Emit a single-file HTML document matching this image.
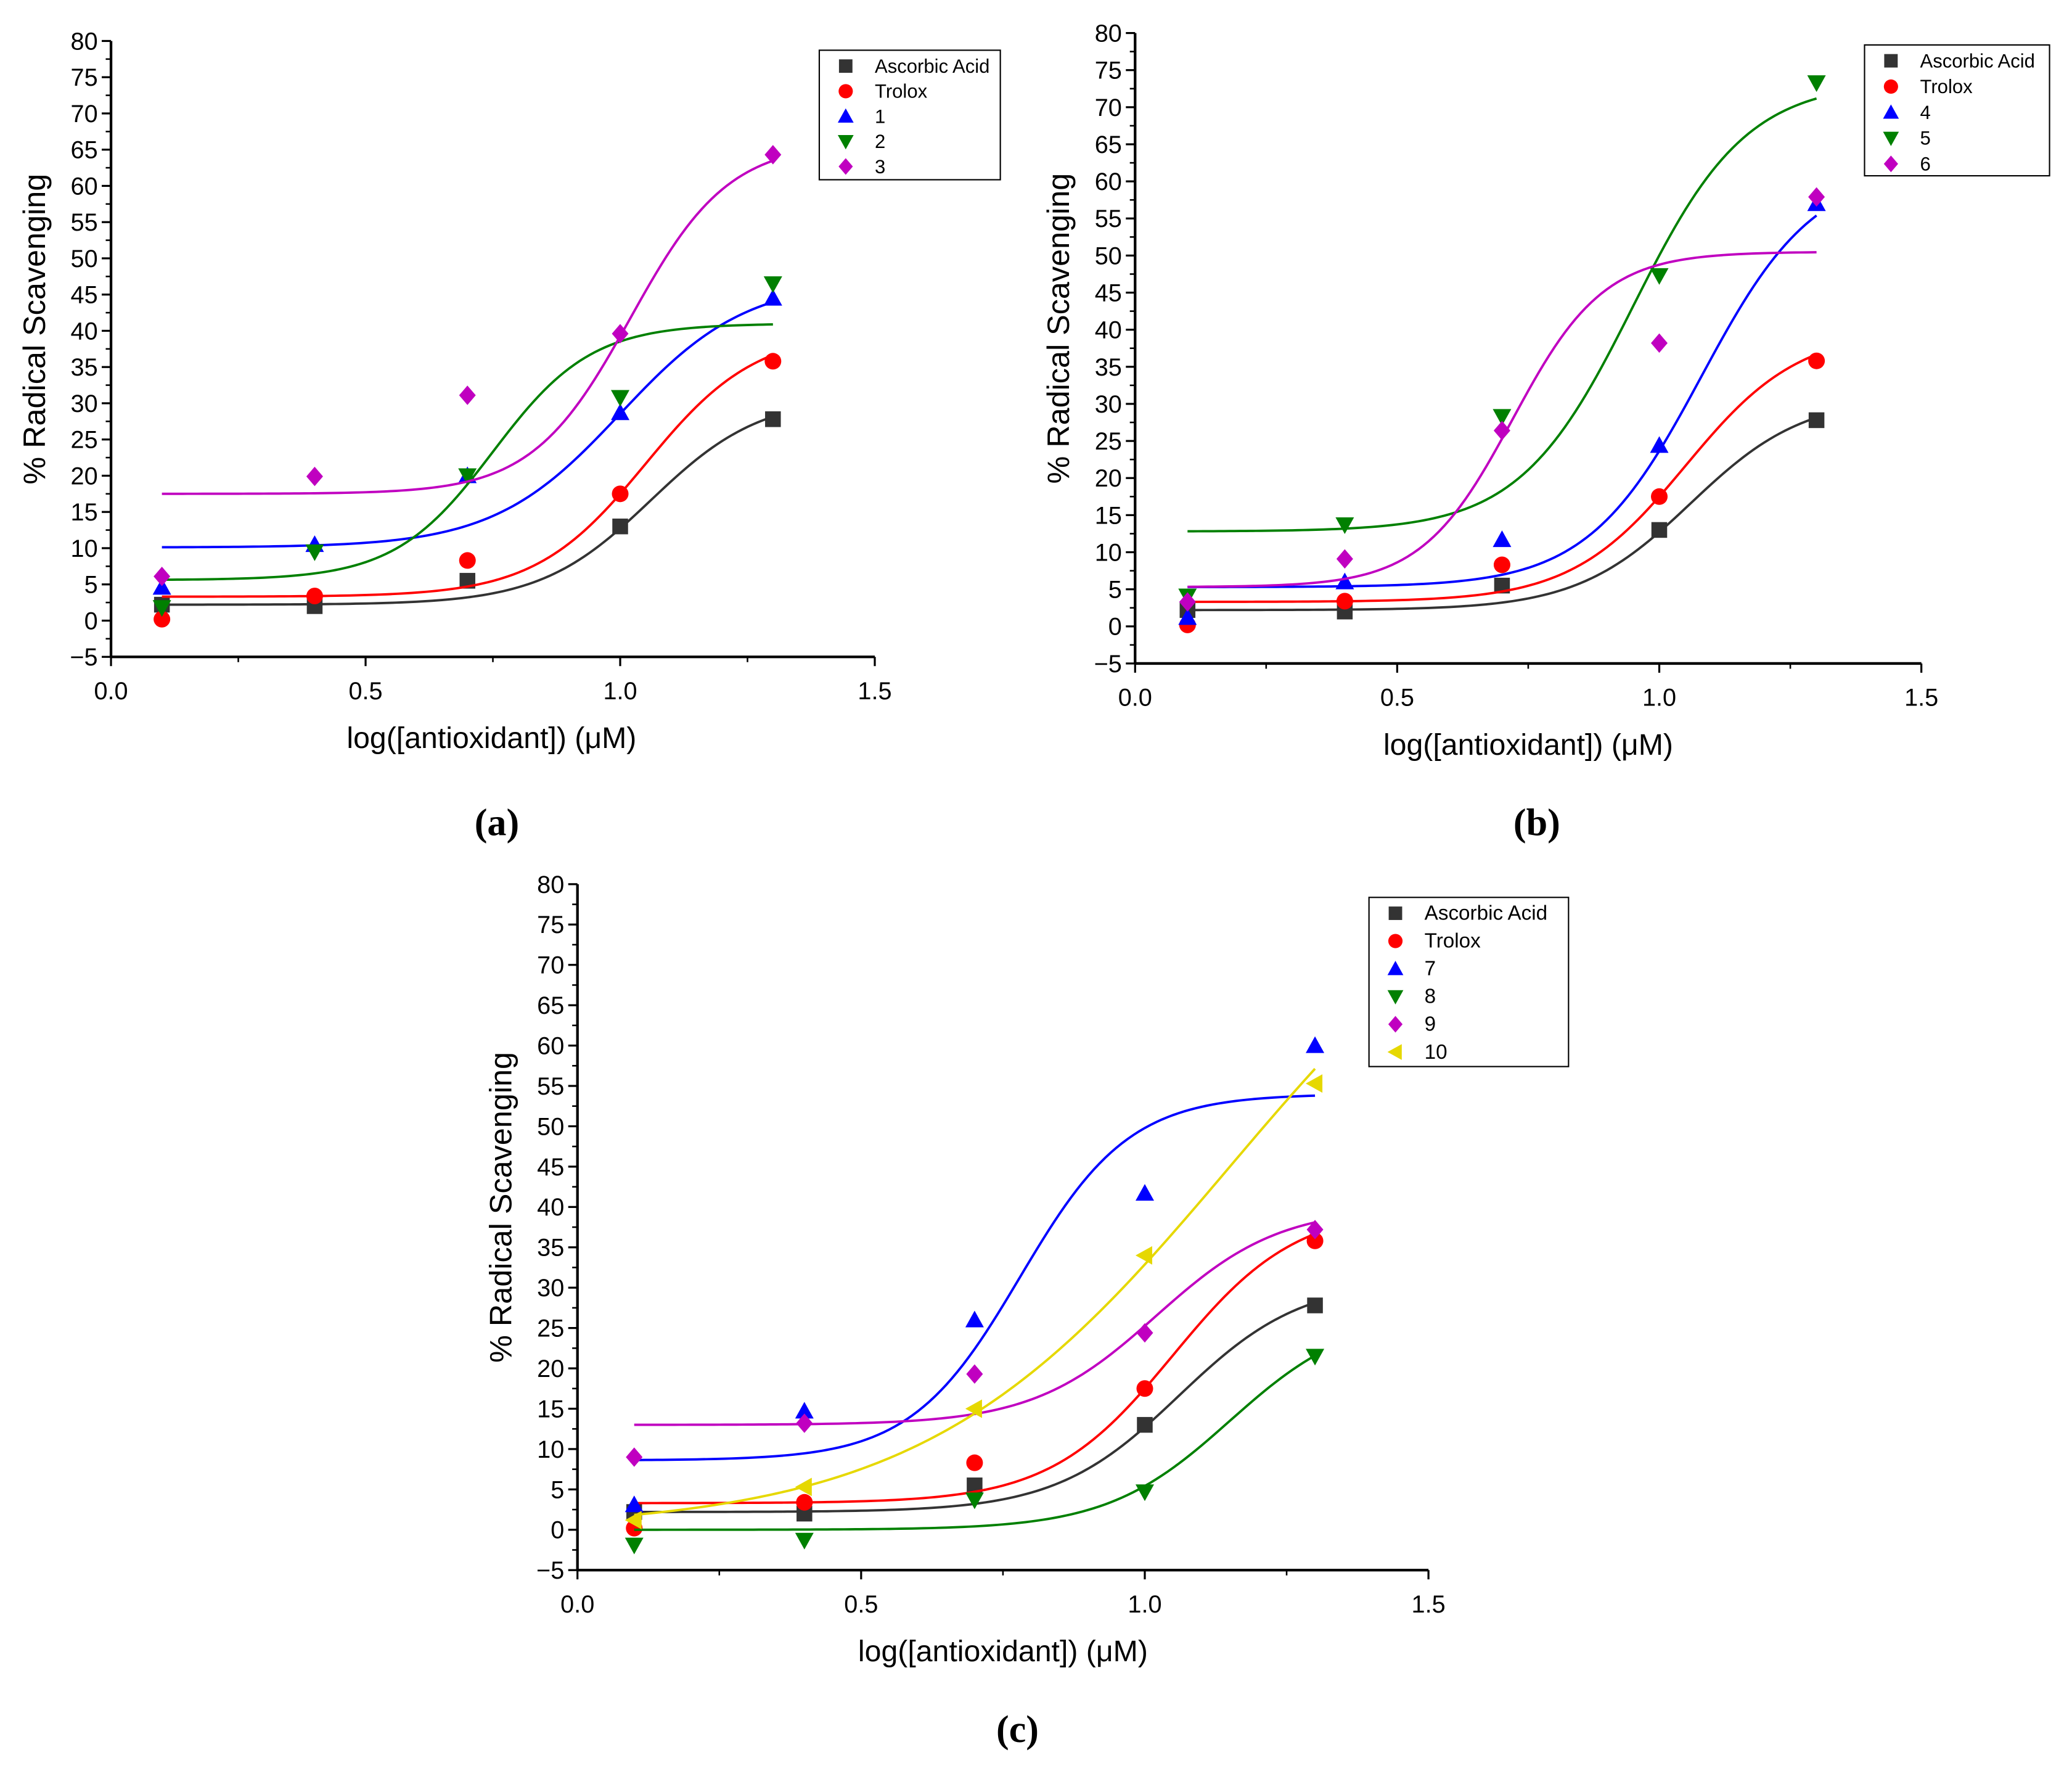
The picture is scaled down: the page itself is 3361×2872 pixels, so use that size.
<!DOCTYPE html>
<html><head><meta charset="utf-8">
<style>
html,body{margin:0;padding:0;background:#fff;}
svg{display:block;}
text{font-family:"Liberation Sans",Arial,sans-serif;}
.cap{font-family:"Liberation Serif",serif;font-weight:bold;}
</style></head>
<body>
<svg id="fig" width="3361" height="2872" viewBox="0 0 1568 1340" preserveAspectRatio="none" xmlns="http://www.w3.org/2000/svg">
<rect width="1568" height="1340" fill="#fff"/>
</svg>
<script>
// x positions (log concentration)
const logConc = [0.1, 0.4, 0.7, 1.0, 1.3];
// ---- panel a data ----
const aAscorbic = [2.2, 2.0, 5.5, 13.0, 27.8];
const aTrolox = [0.2, 3.4, 8.3, 17.5, 35.8];
const a1 = [4.6, 10.5, 20.0, 28.7, 44.5];
const a2 = [1.8, 9.5, 20.0, 30.8, 46.5];
const a3 = [6.1, 19.9, 31.1, 39.6, 64.3];
// ---- panel b data ----
const b4 = [1.2, 6.0, 11.7, 24.4, 57.0];
const b5 = [4.1, 13.7, 28.3, 47.3, 73.3];
const b6 = [3.3, 9.1, 26.4, 38.2, 57.9];
// ---- panel c data ----
const c7 = [3.1, 14.7, 26.0, 41.7, 60.0];
const c8 = [-1.9, -1.3, 3.7, 4.7, 21.5];
const c9 = [9.0, 13.2, 19.3, 24.4, 37.2];
const c10 = [1.2, 5.3, 15.0, 34.0, 55.3];
// fitted logistic params [bottom, top, x50, hill]
const fitAscorbic = [2.2, 31, 1.06, 4];
const fitTrolox = [3.3, 40, 1.05, 4];
const fit1 = [10.1, 47, 1.0, 3.5];
const fit2 = [5.6, 41, 0.75, 4.5];
const fit3 = [17.5, 66, 1.02, 4.5];
const fit4 = [5.3, 62, 1.08, 4];
const fit5 = [12.8, 73.5, 0.95, 4];
const fit6 = [5.3, 50.5, 0.72, 5];
const fit7 = [8.6, 54, 0.78, 4.5];
const fit8 = [0, 27, 1.15, 4];
const fit9 = [13, 40, 1.02, 4];
const fit10 = [0, 90, 1.15, 1.6];
// axis ticks
const yTicks = [-5,0,5,10,15,20,25,30,35,40,45,50,55,60,65,70,75,80];
const xTicks = [0.0,0.5,1.0,1.5];
const xTickLabels = ["0.0","0.5","1.0","1.5"];

const NS = "http://www.w3.org/2000/svg";
const svg = document.getElementById('fig');
function mk(tag, attrs, parent, txt){
  const e = document.createElementNS(NS, tag);
  for (const k in attrs) e.setAttribute(k, attrs[k]);
  if (txt !== undefined) e.textContent = txt;
  (parent||svg).appendChild(e);
  return e;
}
const COL = {sq:'#333333', ci:'#ff0000', up:'#0000ff', dn:'#008000', di:'#c000c0', lt:'#e6d800'};
function marker(g, shape, cx, cy, s){
  const h = s/2; let e;
  if (shape==='sq') e = mk('rect',{x:cx-h*0.85,y:cy-h*0.85,width:s*0.85,height:s*0.85,fill:COL.sq},g);
  else if (shape==='ci') e = mk('circle',{cx:cx,cy:cy,r:h*0.9,fill:COL.ci},g);
  else if (shape==='up') e = mk('polygon',{points:`${cx},${cy-h} ${cx+h},${cy+h*0.8} ${cx-h},${cy+h*0.8}`,fill:COL.up},g);
  else if (shape==='dn') e = mk('polygon',{points:`${cx},${cy+h} ${cx+h},${cy-h*0.8} ${cx-h},${cy-h*0.8}`,fill:COL.dn},g);
  else if (shape==='di') e = mk('polygon',{points:`${cx},${cy-h*1.05} ${cx+h*0.9},${cy} ${cx},${cy+h*1.05} ${cx-h*0.9},${cy}`,fill:COL.di},g);
  else if (shape==='lt') e = mk('polygon',{points:`${cx-h},${cy} ${cx+h*0.8},${cy-h} ${cx+h*0.8},${cy+h}`,fill:COL.lt},g);
  return e;
}
function logistic(p, x){ return p[0] + (p[1]-p[0])/(1+Math.pow(10,(p[2]-x)*p[3])); }

function panel(cfg){
  const g = mk('g',{});
  
  
  const X = v => cfg.x0 + (v-0)/(1.5-0)*(cfg.x1-cfg.x0);
  const Y = v => cfg.y1 + (v-(-5))/(80-(-5))*(cfg.y0-cfg.y1);
  const ax = mk('line',{x1:cfg.x0,y1:cfg.y1,x2:cfg.x1,y2:cfg.y1,stroke:'#000','stroke-width':2},g);
  
  
  const ay = mk('line',{x1:cfg.x0,y1:cfg.y0,x2:cfg.x0,y2:cfg.y1,stroke:'#000','stroke-width':2},g);
  
  
  yTicks.forEach((t,i)=>{
    const y = Y(t);
    mk('line',{x1:cfg.x0-7,y1:y,x2:cfg.x0,y2:y,stroke:'#000','stroke-width':1.5},g);
    if (i<yTicks.length-1){ const ym=Y(t+2.5); mk('line',{x1:cfg.x0-4,y1:ym,x2:cfg.x0,y2:ym,stroke:'#000','stroke-width':1.2},g); }
    const lb = mk('text',{x:cfg.x0-10,y:y+6.5,'text-anchor':'end','font-size':18.5},g, t<0?'\u22125':String(t));
    
    
  });
  xTicks.forEach((t,i)=>{
    const x = X(t);
    mk('line',{x1:x,y1:cfg.y1,x2:x,y2:cfg.y1+7,stroke:'#000','stroke-width':1.5},g);
    if (i<xTicks.length-1){ const xm=X(t+0.25); mk('line',{x1:xm,y1:cfg.y1,x2:xm,y2:cfg.y1+4,stroke:'#000','stroke-width':1.2},g); }
    const lb = mk('text',{x:x,y:cfg.y1+32,'text-anchor':'middle','font-size':18.5},g, xTickLabels[i]);
    
    
  });
  const xt = mk('text',{x:(cfg.x0+cfg.x1)/2-(cfg.titleShift||0),y:cfg.y1+69,'text-anchor':'middle','font-size':22.5},g,'log([antioxidant]) (\u03bcM)');
  
  
  const yc = (cfg.y0+cfg.y1)/2 - 15;
  const yt = mk('text',{x:cfg.x0-50,y:yc,'text-anchor':'middle','font-size':23.5,transform:`rotate(-90 ${cfg.x0-50} ${yc})`},g,'% Radical Scavenging');
  
  
  cfg.series.forEach(s=>{
    let d='';
    for (let i=0;i<=120;i++){ const xv=0.1+1.2*i/120; d+=(i?'L':'M')+X(xv).toFixed(2)+','+Y(logistic(s.fit,xv)).toFixed(2); }
    const c = mk('path',{d:d,fill:'none',stroke:COL[s.shape],'stroke-width':1.8},g);
    
    
    s.vals.forEach((v,i)=>{
      const m = marker(g, s.shape, X(logConc[i]), Y(v), 14);
      
      
    });
  });
  const L = cfg.legend;
  const lg = mk('g',{},g);
  
  
  mk('rect',{x:L.x,y:L.y,width:L.w,height:L.h,fill:'#fff',stroke:'#000','stroke-width':1},lg);
  cfg.series.forEach((s,i)=>{
    const yy = L.y+12+i*L.dy;
    const e = mk('g',{},lg);
    
    
    marker(e, s.shape, L.x+20, yy, 12);
    mk('text',{x:L.x+42,y:yy+5,'font-size':L.fs},e,s.label);
  });
  const cp = mk('text',{x:cfg.cap[0],y:cfg.cap[1],'text-anchor':'middle','font-size':29,class:'cap'},g,cfg.capText);
  
  
}

panel({name:'panel-a', x0:84,x1:662,y0:31,y1:497, titleShift:1, cap:[376,632], capText:'(a)',
  legend:{x:620,y:38,w:137,h:98,dy:19,fs:14.5},
  series:[
    {key:'ascorbic-acid',label:'Ascorbic Acid',shape:'sq',vals:aAscorbic,fit:fitAscorbic},
    {key:'trolox',label:'Trolox',shape:'ci',vals:aTrolox,fit:fitTrolox},
    {key:'1',label:'1',shape:'up',vals:a1,fit:fit1},
    {key:'2',label:'2',shape:'dn',vals:a2,fit:fit2},
    {key:'3',label:'3',shape:'di',vals:a3,fit:fit3}]});
panel({name:'panel-b', x0:859,x1:1454,y0:25,y1:502, titleShift:0, cap:[1163,632], capText:'(b)',
  legend:{x:1411,y:34,w:140,h:99,dy:19.5,fs:14.5},
  series:[
    {key:'ascorbic-acid',label:'Ascorbic Acid',shape:'sq',vals:aAscorbic,fit:fitAscorbic},
    {key:'trolox',label:'Trolox',shape:'ci',vals:aTrolox,fit:fitTrolox},
    {key:'4',label:'4',shape:'up',vals:b4,fit:fit4},
    {key:'5',label:'5',shape:'dn',vals:b5,fit:fit5},
    {key:'6',label:'6',shape:'di',vals:b6,fit:fit6}]});
panel({name:'panel-c', x0:437,x1:1081,y0:669,y1:1188, titleShift:0, cap:[770,1318], capText:'(c)',
  legend:{x:1036,y:679,w:151,h:128,dy:21,fs:15.5},
  series:[
    {key:'ascorbic-acid',label:'Ascorbic Acid',shape:'sq',vals:aAscorbic,fit:fitAscorbic},
    {key:'trolox',label:'Trolox',shape:'ci',vals:aTrolox,fit:fitTrolox},
    {key:'7',label:'7',shape:'up',vals:c7,fit:fit7},
    {key:'8',label:'8',shape:'dn',vals:c8,fit:fit8},
    {key:'9',label:'9',shape:'di',vals:c9,fit:fit9},
    {key:'10',label:'10',shape:'lt',vals:c10,fit:fit10}]});
</script>
</body></html>
